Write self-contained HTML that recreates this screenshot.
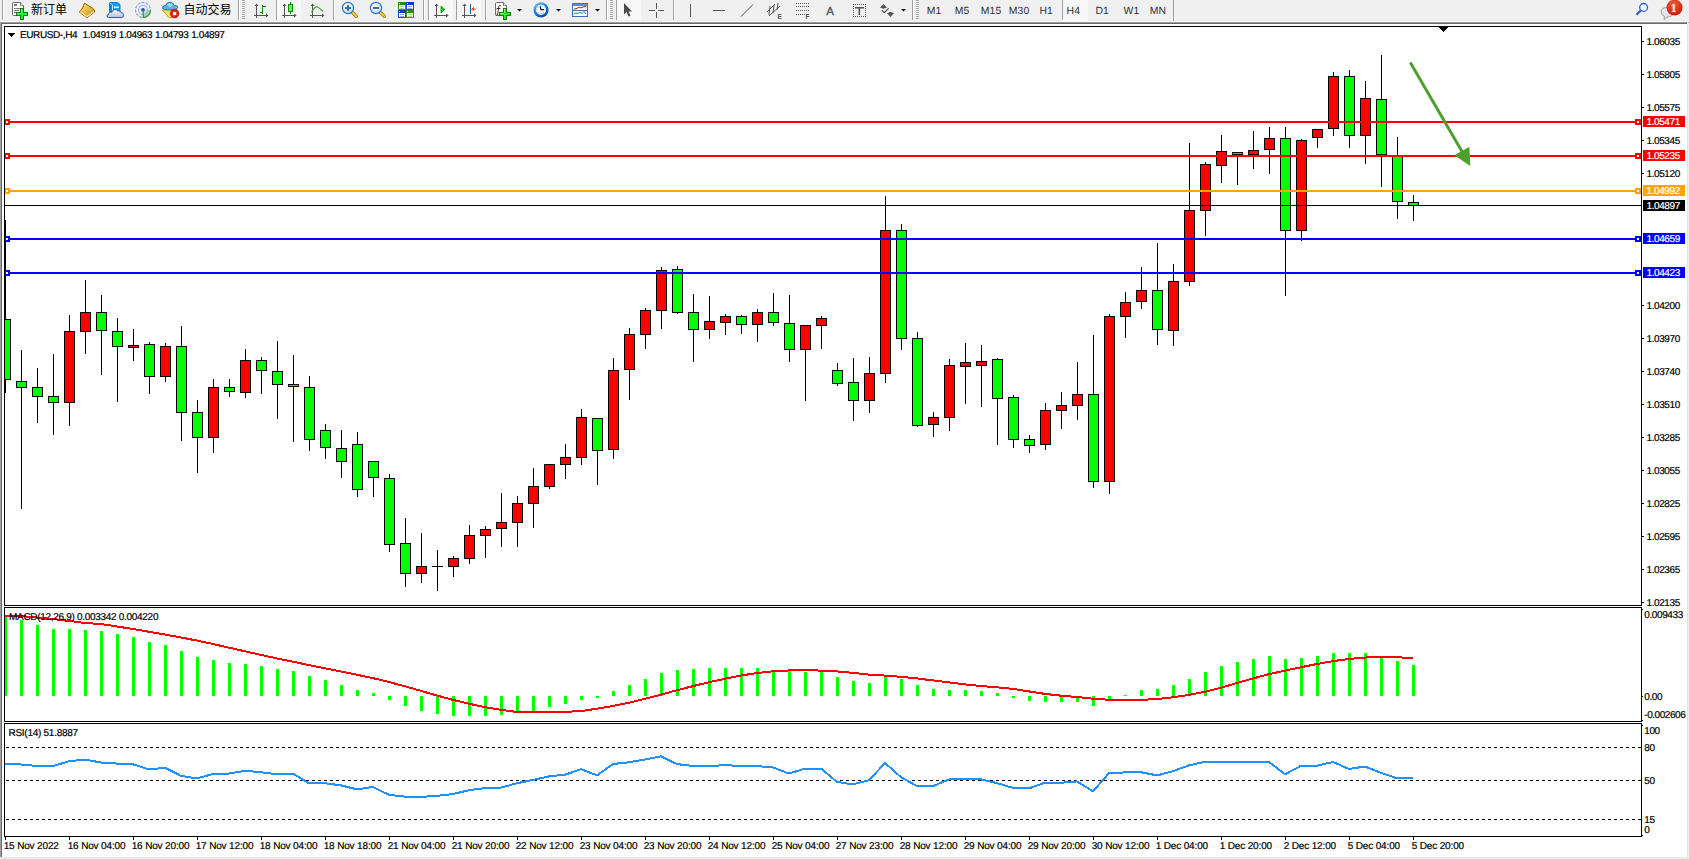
<!DOCTYPE html>
<html><head><meta charset="utf-8"><title>EURUSD-,H4</title>
<style>
html,body{margin:0;padding:0;background:#f0f0f0;width:1689px;height:859px;overflow:hidden;}
svg{position:absolute;left:0;top:0;display:block;}
text{white-space:pre;}
</style></head><body>
<svg width="1689" height="859" viewBox="0 0 1689 859" shape-rendering="crispEdges">
<rect x="0" y="0" width="1689" height="859" fill="#f0f0f0"/>
<g shape-rendering="geometricPrecision">
<defs><pattern id="chk" width="2" height="2" patternUnits="userSpaceOnUse"><rect width="2" height="2" fill="#f4f4f4"/><rect width="1" height="1" fill="#fbfbfb"/><rect x="1" y="1" width="1" height="1" fill="#fbfbfb"/></pattern><linearGradient id="gplus" x1="0" y1="0" x2="0" y2="1"><stop offset="0" stop-color="#5dff5d"/><stop offset="1" stop-color="#00a000"/></linearGradient><linearGradient id="gbook" x1="0" y1="0" x2="1" y2="1"><stop offset="0" stop-color="#ffe680"/><stop offset="1" stop-color="#c8900a"/></linearGradient><radialGradient id="gclock" cx="0.5" cy="0.5" r="0.5"><stop offset="0.6" stop-color="#fff"/><stop offset="0.75" stop-color="#2a86e0"/><stop offset="1" stop-color="#0a4fb0"/></radialGradient><linearGradient id="gcloud" x1="0" y1="0" x2="0" y2="1"><stop offset="0" stop-color="#fafafe"/><stop offset="1" stop-color="#b4c0d8"/></linearGradient><linearGradient id="gfunnel" x1="0" y1="0" x2="1" y2="0"><stop offset="0" stop-color="#f8d840"/><stop offset="1" stop-color="#fff890"/></linearGradient><linearGradient id="gradar" x1="0" y1="0" x2="1" y2="1"><stop offset="0" stop-color="#e8f4e8"/><stop offset="1" stop-color="#60b060"/></linearGradient><radialGradient id="glens" cx="0.4" cy="0.35" r="0.7"><stop offset="0" stop-color="#ffffff"/><stop offset="1" stop-color="#b8e0f8"/></radialGradient><linearGradient id="gclock2" x1="0.2" y1="0.1" x2="0.7" y2="1"><stop offset="0" stop-color="#5ab8ff"/><stop offset="0.5" stop-color="#1478e0"/><stop offset="1" stop-color="#0448a8"/></linearGradient><radialGradient id="gnotif" cx="0.45" cy="0.3" r="0.7"><stop offset="0" stop-color="#f06040"/><stop offset="1" stop-color="#d01800"/></radialGradient></defs>
<rect x="2" y="0" width="1" height="20" fill="#a0a0a0"/><rect x="3" y="0" width="1" height="20" fill="#fff"/>
<path d="M12.5,3.5 q0,-1 1,-1 h7 l3,3 v9 q0,1 -1,1 h-9 q-1,0 -1,-1 z" fill="#fff" stroke="#6e6e6e" stroke-width="1"/>
<path d="M20.5,2.5 v3 h3" fill="#d8d8d8" stroke="#6e6e6e" stroke-width="1"/><rect x="21" y="4" width="1.4" height="1.4" fill="#fff"/>
<g shape-rendering="crispEdges" fill="#7a7a7a"><rect x="14" y="4" width="3" height="2"/><rect x="14" y="8" width="6" height="1"/><rect x="14" y="10" width="5" height="1"/><rect x="14" y="12" width="3" height="1"/></g>
<g shape-rendering="crispEdges"><path d="M20,8 h4 v4 h4 v4 h-4 v4 h-4 v-4 h-4 v-4 h4 z" fill="#0a7d0a"/><path d="M21,9 h2 v4 h4 v2 h-4 v4 h-2 v-4 h-4 v-2 h4 z" fill="#22ee22"/><rect x="21" y="9" width="1" height="4" fill="#8af88a"/><rect x="17" y="13" width="4" height="1" fill="#8af88a"/></g>
<text x="31" y="13.5" font-size="12" fill="#000" font-family='"Liberation Sans", "Noto Sans CJK SC", "WenQuanYi Zen Hei", sans-serif'>新订单</text>
<path d="M84.5,3.2 L93.5,8.8 L95,11.5 L87,17.8 L79.2,12 L82.5,8.5 Z" fill="url(#gbook)" stroke="#9a5e08" stroke-width="1"/><path d="M80.5,12 L87,16.8 L94,11.5" fill="none" stroke="#f8e8a0" stroke-width="1.2"/><path d="M84.5,3.5 Q83,7 80,11.5" fill="none" stroke="#c88a18" stroke-width="1"/>
<path d="M109.5,2.5 h8 l2.5,2 v8 h-10.5 z" fill="#0aa0f0" stroke="#1a78d8" stroke-width="1"/><path d="M109.5,2.8 L112.5,5 V12" fill="none" stroke="#d8f0ff" stroke-width="0.9"/><path d="M110,3.5 L112,5 V12 H110 Z" fill="#0a88e0"/><rect x="114" y="6.5" width="5" height="1.6" fill="#e8f6ff"/><path d="M108.5,17.5 h13.5 q1.5,0 1.5,-2.2 q0,-2.6 -2.5,-2.8 q-0.8,-2.3 -3.2,-1.6 q-1.2,-1.6 -3.3,-1.3 q-2.3,0.4 -2.5,2.6 q-1.4,-0.6 -2.4,0.3 q-0.8,0.7 -0.6,1.6 q-1.9,0.2 -1.9,1.8 q0,1.6 1.4,1.6 z" fill="url(#gcloud)" stroke="#3c5a94" stroke-width="1"/>
<path d="M143,10 L151,10 A8,8 0 0 1 143,18 Z" fill="url(#gradar)"/><g fill="none" stroke-width="1.1"><circle cx="143" cy="10" r="7.5" stroke="#7aa0e0" stroke-dasharray="3 1.2"/><circle cx="143" cy="10" r="4.5" stroke="#90b0e8"/></g><path d="M150.5,10 A7.5,7.5 0 0 1 143,17.5" fill="none" stroke="#3a9a3a" stroke-width="1.2"/><circle cx="143" cy="9.8" r="1.9" fill="#1e50d0"/><rect x="142.6" y="10" width="1.2" height="8" fill="#18a018"/>
<path d="M162.5,10 L177.5,10 L172,17.5 L169,17.5 Z" fill="url(#gfunnel)" stroke="#c89a10" stroke-width="1"/><path d="M162.5,8 q0,-2.8 3.5,-2.6 q0.6,-3.2 4,-3.2 q3.4,0 4,3.2 q3.8,-0.4 3.8,2 q0,2.2 -7.8,2.4 q-7.5,0 -7.5,-1.8 z" fill="#5ab4e8" stroke="#2a7cb0" stroke-width="1"/><ellipse cx="170" cy="5" rx="2.6" ry="1.8" fill="#9ad8f8"/><circle cx="174.6" cy="13.6" r="4.3" fill="#e02808" stroke="#b01800" stroke-width="0.8"/><rect x="173" y="12" width="3.2" height="3.2" fill="#fff"/>
<text x="183.5" y="13.5" font-size="12" fill="#000" font-family='"Liberation Sans", "Noto Sans CJK SC", "WenQuanYi Zen Hei", sans-serif'>自动交易</text>
<rect x="238" y="0" width="1" height="20" fill="#a0a0a0"/><rect x="239" y="0" width="1" height="20" fill="#fff"/>
<rect x="242" y="0" width="3" height="1" fill="#a8a8a8"/>
<rect x="242" y="2" width="3" height="1" fill="#a8a8a8"/>
<rect x="242" y="4" width="3" height="1" fill="#a8a8a8"/>
<rect x="242" y="6" width="3" height="1" fill="#a8a8a8"/>
<rect x="242" y="8" width="3" height="1" fill="#a8a8a8"/>
<rect x="242" y="10" width="3" height="1" fill="#a8a8a8"/>
<rect x="242" y="12" width="3" height="1" fill="#a8a8a8"/>
<rect x="242" y="14" width="3" height="1" fill="#a8a8a8"/>
<rect x="242" y="16" width="3" height="1" fill="#a8a8a8"/>
<rect x="242" y="18" width="3" height="1" fill="#a8a8a8"/>
<g fill="#555"><rect x="256" y="4" width="1" height="14"/><rect x="254" y="15" width="14" height="1"/><path d="M254.5,6 L256.5,3.5 L258.5,6 Z"/><path d="M266,13.5 L268.5,15.5 L266,17.5 Z"/></g>
<g fill="#109010"><rect x="262" y="5" width="1" height="9"/><rect x="263" y="6" width="3" height="1"/><rect x="260" y="12" width="2" height="1"/></g>
<rect x="276" y="0" width="1" height="20" fill="#a0a0a0"/><rect x="277" y="0" width="1" height="20" fill="#fff"/>
<rect x="277" y="0" width="24" height="20" fill="url(#chk)"/>
<g fill="#555"><rect x="284" y="4" width="1" height="14"/><rect x="282" y="15" width="14" height="1"/><path d="M282.5,6 L284.5,3.5 L286.5,6 Z"/><path d="M294,13.5 L296.5,15.5 L294,17.5 Z"/></g>
<rect x="290" y="2" width="1" height="12" fill="#109010"/><rect x="288.5" y="4.5" width="4" height="7" fill="#60f060" stroke="#109010" stroke-width="1"/>
<g fill="#555"><rect x="312" y="4" width="1" height="14"/><rect x="310" y="15" width="14" height="1"/><path d="M310.5,6 L312.5,3.5 L314.5,6 Z"/><path d="M322,13.5 L324.5,15.5 L322,17.5 Z"/></g>
<path d="M311.5,12.5 C313.5,8.5 315.5,6.5 317.5,7 C319.5,7.5 321,10.5 323,11.2" fill="none" stroke="#30a030" stroke-width="1.1"/>
<rect x="333" y="0" width="1" height="20" fill="#a0a0a0"/><rect x="334" y="0" width="1" height="20" fill="#fff"/>
<line x1="351.5" y1="11.5" x2="356.3" y2="16.3" stroke="#b07a10" stroke-width="3.4" stroke-linecap="round"/>
<line x1="351.5" y1="11.5" x2="356.3" y2="16.3" stroke="#f0d860" stroke-width="1.6" stroke-linecap="round"/>
<circle cx="348" cy="8" r="5.6" fill="url(#glens)" stroke="#2c78c8" stroke-width="1.2"/>
<rect x="345" y="7" width="6" height="2" fill="#3a70a0"/>
<rect x="347" y="5" width="2" height="6" fill="#3a70a0"/>
<line x1="379.5" y1="11.5" x2="384.3" y2="16.3" stroke="#b07a10" stroke-width="3.4" stroke-linecap="round"/>
<line x1="379.5" y1="11.5" x2="384.3" y2="16.3" stroke="#f0d860" stroke-width="1.6" stroke-linecap="round"/>
<circle cx="376" cy="8" r="5.6" fill="url(#glens)" stroke="#2c78c8" stroke-width="1.2"/>
<rect x="373" y="7" width="6" height="2" fill="#3a70a0"/>
<g shape-rendering="crispEdges"><rect x="398" y="2" width="8" height="8" fill="#3a9a10"/><rect x="398" y="2" width="8" height="3" fill="#2c8a08"/><rect x="399" y="3" width="1" height="1" fill="#e8f0ff"/><rect x="399" y="5" width="6" height="4" fill="#fff"/><rect x="400" y="6" width="4" height="1" fill="#a8d890"/><rect x="400" y="8" width="4" height="1" fill="#a8d890"/></g>
<g shape-rendering="crispEdges"><rect x="406" y="2" width="8" height="8" fill="#1a4ad8"/><rect x="406" y="2" width="8" height="3" fill="#1038c0"/><rect x="407" y="3" width="1" height="1" fill="#e8f0ff"/><rect x="407" y="5" width="6" height="4" fill="#fff"/><rect x="408" y="6" width="4" height="1" fill="#90a8e8"/><rect x="408" y="8" width="4" height="1" fill="#90a8e8"/></g>
<g shape-rendering="crispEdges"><rect x="398" y="10" width="8" height="8" fill="#1a4ad8"/><rect x="398" y="10" width="8" height="3" fill="#1038c0"/><rect x="399" y="11" width="1" height="1" fill="#e8f0ff"/><rect x="399" y="13" width="6" height="4" fill="#fff"/><rect x="400" y="14" width="4" height="1" fill="#90a8e8"/><rect x="400" y="16" width="4" height="1" fill="#90a8e8"/></g>
<g shape-rendering="crispEdges"><rect x="406" y="10" width="8" height="8" fill="#3a9a10"/><rect x="406" y="10" width="8" height="3" fill="#2c8a08"/><rect x="407" y="11" width="1" height="1" fill="#e8f0ff"/><rect x="407" y="13" width="6" height="4" fill="#fff"/><rect x="408" y="14" width="4" height="1" fill="#a8d890"/><rect x="408" y="16" width="4" height="1" fill="#a8d890"/></g>
<rect x="423" y="0" width="1" height="20" fill="#a0a0a0"/><rect x="424" y="0" width="1" height="20" fill="#fff"/>
<rect x="428" y="0" width="1" height="20" fill="#a0a0a0"/><rect x="429" y="0" width="1" height="20" fill="#fff"/>
<rect x="430" y="0" width="23" height="20" fill="url(#chk)"/>
<g fill="#555"><rect x="436" y="4" width="1" height="14"/><rect x="434" y="15" width="14" height="1"/><path d="M434.5,6 L436.5,3.5 L438.5,6 Z"/><path d="M446,13.5 L448.5,15.5 L446,17.5 Z"/></g>
<path d="M441,6 L445,9.5 L441,13 Z" fill="#30c030" stroke="#109010" stroke-width="0.8"/>
<rect x="456" y="0" width="1" height="20" fill="#a0a0a0"/><rect x="457" y="0" width="1" height="20" fill="#fff"/>
<rect x="457" y="0" width="24" height="20" fill="url(#chk)"/>
<g fill="#555"><rect x="464" y="4" width="1" height="14"/><rect x="462" y="15" width="14" height="1"/><path d="M462.5,6 L464.5,3.5 L466.5,6 Z"/><path d="M474,13.5 L476.5,15.5 L474,17.5 Z"/></g>
<rect x="470" y="4" width="1" height="10" fill="#1060a0"/><path d="M471,9 L474,7 L474,8.5 L476,8.5 L476,9.5 L474,9.5 L474,11 Z" fill="#e05010"/>
<rect x="485" y="0" width="1" height="20" fill="#a0a0a0"/><rect x="486" y="0" width="1" height="20" fill="#fff"/>
<path d="M495.5,3.5 q0,-1 1,-1 h7 l3,3 v9 q0,1 -1,1 h-9 q-1,0 -1,-1 z" fill="#fff" stroke="#6e6e6e" stroke-width="1"/>
<path d="M503.5,2.5 v3 h3" fill="#d8d8d8" stroke="#6e6e6e" stroke-width="1"/><rect x="504" y="4" width="1.4" height="1.4" fill="#fff"/>
<path d="M501,5.5 q-2,-0.5 -2.3,1.5 l-1,7 q-0.3,1.5 -2,1.2 M496.5,8.5 h4" fill="none" stroke="#4a3a20" stroke-width="1"/>
<g shape-rendering="crispEdges"><path d="M503,8 h4 v4 h4 v4 h-4 v4 h-4 v-4 h-4 v-4 h4 z" fill="#0a7d0a"/><path d="M504,9 h2 v4 h4 v2 h-4 v4 h-2 v-4 h-4 v-2 h4 z" fill="#22ee22"/><rect x="504" y="9" width="1" height="4" fill="#8af88a"/><rect x="500" y="13" width="4" height="1" fill="#8af88a"/></g>
<path d="M517.0,9 h5 l-2.5,2.5 z" fill="#000"/>
<circle cx="541" cy="9.8" r="7.6" fill="url(#gclock2)"/><circle cx="541" cy="9.8" r="5.1" fill="#f8f8f8"/><g fill="#9a9a9a"><rect x="540.5" y="5.2" width="1" height="1"/><rect x="536.3" y="9.3" width="1" height="1"/><rect x="544.7" y="9.3" width="1" height="1"/><rect x="538" y="12.5" width="1" height="1"/><rect x="543" y="12.5" width="1" height="1"/><rect x="537.5" y="6.8" width="1" height="1"/></g><rect x="540.5" y="12.8" width="1.6" height="0.8" fill="#6aa8f0"/><path d="M540.2,6.3 L541,9.6 L544,9.6" fill="none" stroke="#1a1a1a" stroke-width="1.3"/>
<path d="M556.0,9 h5 l-2.5,2.5 z" fill="#000"/>
<rect x="572.5" y="3.5" width="15" height="13" fill="#fff" stroke="#3a70c0" stroke-width="1"/><rect x="573" y="4" width="14" height="2" fill="#5a90d8"/><rect x="573" y="10" width="14" height="1" fill="#3a70c0"/><polyline points="574,9 577,8.5 579,7 581,8 583,7 586,6.5" fill="none" stroke="#a02010" stroke-width="1"/><polyline points="574,14 576,13 578,13.5 580,12 582,13.5 584,11.5 586,14" fill="none" stroke="#20a020" stroke-width="1"/>
<path d="M595.0,9 h5 l-2.5,2.5 z" fill="#000"/>
<rect x="606" y="0" width="1" height="20" fill="#a0a0a0"/><rect x="607" y="0" width="1" height="20" fill="#fff"/>
<rect x="610" y="0" width="3" height="1" fill="#a8a8a8"/>
<rect x="610" y="2" width="3" height="1" fill="#a8a8a8"/>
<rect x="610" y="4" width="3" height="1" fill="#a8a8a8"/>
<rect x="610" y="6" width="3" height="1" fill="#a8a8a8"/>
<rect x="610" y="8" width="3" height="1" fill="#a8a8a8"/>
<rect x="610" y="10" width="3" height="1" fill="#a8a8a8"/>
<rect x="610" y="12" width="3" height="1" fill="#a8a8a8"/>
<rect x="610" y="14" width="3" height="1" fill="#a8a8a8"/>
<rect x="610" y="16" width="3" height="1" fill="#a8a8a8"/>
<rect x="610" y="18" width="3" height="1" fill="#a8a8a8"/>
<rect x="616" y="0" width="1" height="20" fill="#a0a0a0"/><rect x="617" y="0" width="1" height="20" fill="#fff"/>
<rect x="617" y="0" width="24" height="20" fill="url(#chk)"/>
<path d="M624,3 L624,14.5 L626.5,12 L628.5,16.5 L630.5,15.5 L628.5,11.5 L632,11.5 Z" fill="#4a4a4a"/>
<g fill="#555"><rect x="656" y="3" width="1" height="6"/><rect x="656" y="12" width="1" height="6"/><rect x="649" y="10" width="6" height="1"/><rect x="658" y="10" width="6" height="1"/></g>
<rect x="673" y="0" width="1" height="20" fill="#a0a0a0"/><rect x="674" y="0" width="1" height="20" fill="#fff"/>
<rect x="690" y="4" width="1" height="13" fill="#555"/>
<rect x="713" y="10" width="12" height="1" fill="#555"/>
<line x1="741" y1="16.5" x2="753" y2="4.5" stroke="#555" stroke-width="1"/>
<g stroke="#555" stroke-width="1" fill="none"><line x1="767" y1="12" x2="775" y2="4"/><line x1="769" y1="16" x2="780" y2="6"/><line x1="770" y1="6" x2="769" y2="15"/><line x1="774" y1="5" x2="773" y2="13"/><line x1="778" y1="3" x2="777" y2="10"/></g><text x="777.5" y="19" font-size="6.5" font-weight="bold" fill="#555" font-family='"Liberation Sans", Arial, sans-serif'>E</text>
<rect x="796" y="3" width="1" height="1" fill="#555"/>
<rect x="798" y="3" width="1" height="1" fill="#555"/>
<rect x="800" y="3" width="1" height="1" fill="#555"/>
<rect x="802" y="3" width="1" height="1" fill="#555"/>
<rect x="804" y="3" width="1" height="1" fill="#555"/>
<rect x="806" y="3" width="1" height="1" fill="#555"/>
<rect x="808" y="3" width="1" height="1" fill="#555"/>
<rect x="796" y="6" width="1" height="1" fill="#555"/>
<rect x="798" y="6" width="1" height="1" fill="#555"/>
<rect x="800" y="6" width="1" height="1" fill="#555"/>
<rect x="802" y="6" width="1" height="1" fill="#555"/>
<rect x="804" y="6" width="1" height="1" fill="#555"/>
<rect x="806" y="6" width="1" height="1" fill="#555"/>
<rect x="808" y="6" width="1" height="1" fill="#555"/>
<rect x="796" y="10" width="1" height="1" fill="#555"/>
<rect x="798" y="10" width="1" height="1" fill="#555"/>
<rect x="800" y="10" width="1" height="1" fill="#555"/>
<rect x="802" y="10" width="1" height="1" fill="#555"/>
<rect x="804" y="10" width="1" height="1" fill="#555"/>
<rect x="806" y="10" width="1" height="1" fill="#555"/>
<rect x="808" y="10" width="1" height="1" fill="#555"/>
<rect x="796" y="14" width="1" height="1" fill="#555"/>
<rect x="798" y="14" width="1" height="1" fill="#555"/>
<rect x="800" y="14" width="1" height="1" fill="#555"/>
<rect x="802" y="14" width="1" height="1" fill="#555"/>
<rect x="804" y="14" width="1" height="1" fill="#555"/>
<rect x="806" y="14" width="1" height="1" fill="#555"/>
<rect x="808" y="14" width="1" height="1" fill="#555"/>
<text x="805.5" y="19" font-size="6.5" font-weight="bold" fill="#555" font-family='"Liberation Sans", Arial, sans-serif'>F</text>
<text x="826.3" y="15" font-size="11.6" fill="#555" stroke="#555" stroke-width="0.35" font-family='"Liberation Sans", Arial, sans-serif'>A</text>
<rect x="853" y="4" width="1" height="1" fill="#555"/><rect x="853" y="16" width="1" height="1" fill="#555"/>
<rect x="855" y="4" width="1" height="1" fill="#555"/><rect x="855" y="16" width="1" height="1" fill="#555"/>
<rect x="857" y="4" width="1" height="1" fill="#555"/><rect x="857" y="16" width="1" height="1" fill="#555"/>
<rect x="859" y="4" width="1" height="1" fill="#555"/><rect x="859" y="16" width="1" height="1" fill="#555"/>
<rect x="861" y="4" width="1" height="1" fill="#555"/><rect x="861" y="16" width="1" height="1" fill="#555"/>
<rect x="863" y="4" width="1" height="1" fill="#555"/><rect x="863" y="16" width="1" height="1" fill="#555"/>
<rect x="865" y="4" width="1" height="1" fill="#555"/><rect x="865" y="16" width="1" height="1" fill="#555"/>
<rect x="853" y="4" width="1" height="1" fill="#555"/><rect x="865" y="4" width="1" height="1" fill="#555"/>
<rect x="853" y="6" width="1" height="1" fill="#555"/><rect x="865" y="6" width="1" height="1" fill="#555"/>
<rect x="853" y="8" width="1" height="1" fill="#555"/><rect x="865" y="8" width="1" height="1" fill="#555"/>
<rect x="853" y="10" width="1" height="1" fill="#555"/><rect x="865" y="10" width="1" height="1" fill="#555"/>
<rect x="853" y="12" width="1" height="1" fill="#555"/><rect x="865" y="12" width="1" height="1" fill="#555"/>
<rect x="853" y="14" width="1" height="1" fill="#555"/><rect x="865" y="14" width="1" height="1" fill="#555"/>
<rect x="853" y="16" width="1" height="1" fill="#555"/><rect x="865" y="16" width="1" height="1" fill="#555"/>
<rect x="855" y="7" width="9" height="1.5" fill="#555"/><rect x="858.5" y="7" width="1.6" height="8" fill="#555"/>
<g fill="#555"><path d="M880,7.6 L883.5,4 L887,7.6 L883.5,8.8 Z"/><path d="M887,13.2 L890.5,11.8 L894,13.2 L890.5,17 Z"/></g><polyline points="881.8,10.2 884.2,12.6 888.6,8.4" fill="none" stroke="#555" stroke-width="1.3"/>
<path d="M901.0,9 h5 l-2.5,2.5 z" fill="#000"/>
<rect x="912" y="0" width="1" height="20" fill="#a0a0a0"/><rect x="913" y="0" width="1" height="20" fill="#fff"/>
<rect x="916" y="0" width="3" height="1" fill="#a8a8a8"/>
<rect x="916" y="2" width="3" height="1" fill="#a8a8a8"/>
<rect x="916" y="4" width="3" height="1" fill="#a8a8a8"/>
<rect x="916" y="6" width="3" height="1" fill="#a8a8a8"/>
<rect x="916" y="8" width="3" height="1" fill="#a8a8a8"/>
<rect x="916" y="10" width="3" height="1" fill="#a8a8a8"/>
<rect x="916" y="12" width="3" height="1" fill="#a8a8a8"/>
<rect x="916" y="14" width="3" height="1" fill="#a8a8a8"/>
<rect x="916" y="16" width="3" height="1" fill="#a8a8a8"/>
<rect x="916" y="18" width="3" height="1" fill="#a8a8a8"/>
<text x="926.8" y="14" font-size="10.4" fill="#333" text-rendering="geometricPrecision" letter-spacing="0.1" font-family='"Liberation Sans", Arial, sans-serif'>M1</text>
<text x="954.8" y="14" font-size="10.4" fill="#333" text-rendering="geometricPrecision" letter-spacing="0.1" font-family='"Liberation Sans", Arial, sans-serif'>M5</text>
<text x="980.8" y="14" font-size="10.4" fill="#333" text-rendering="geometricPrecision" letter-spacing="0.1" font-family='"Liberation Sans", Arial, sans-serif'>M15</text>
<text x="1008.8" y="14" font-size="10.4" fill="#333" text-rendering="geometricPrecision" letter-spacing="0.1" font-family='"Liberation Sans", Arial, sans-serif'>M30</text>
<text x="1039.5" y="14" font-size="10.4" fill="#333" text-rendering="geometricPrecision" letter-spacing="0.1" font-family='"Liberation Sans", Arial, sans-serif'>H1</text>
<rect x="1062" y="0" width="1" height="20" fill="#a0a0a0"/>
<rect x="1063" y="0" width="25" height="20" fill="url(#chk)"/>
<rect x="1062" y="20" width="26" height="1" fill="#fff"/>
<text x="1066.6" y="14" font-size="10.4" fill="#333" text-rendering="geometricPrecision" letter-spacing="0.1" font-family='"Liberation Sans", Arial, sans-serif'>H4</text>
<text x="1095.5" y="14" font-size="10.4" fill="#333" text-rendering="geometricPrecision" letter-spacing="0.1" font-family='"Liberation Sans", Arial, sans-serif'>D1</text>
<text x="1123.6" y="14" font-size="10.4" fill="#333" text-rendering="geometricPrecision" letter-spacing="0.1" font-family='"Liberation Sans", Arial, sans-serif'>W1</text>
<text x="1149.7" y="14" font-size="10.4" fill="#333" text-rendering="geometricPrecision" letter-spacing="0.1" font-family='"Liberation Sans", Arial, sans-serif'>MN</text>
<rect x="1173" y="0" width="1" height="21" fill="#a0a0a0"/>
<circle cx="1643.6" cy="7.4" r="3.9" fill="#fafaff" stroke="#2060d8" stroke-width="1.3"/><line x1="1641" y1="10.3" x2="1636.5" y2="14.8" stroke="#2060d8" stroke-width="2.2"/>
<path d="M1661,12.5 q0,-5 6,-5 q6,0 6,5 q0,4.5 -6,4.5 l-3,2.5 l0.5,-3 q-3,-1 -3,-4 z" fill="#e4e4ee" stroke="#a0a0a0" stroke-width="1"/>
<circle cx="1674.5" cy="7.6" r="8" fill="url(#gnotif)"/>
<text x="1673.6" y="12.3" font-size="11.5" font-weight="bold" fill="#fff" text-anchor="middle" font-family='"Liberation Serif", serif'>1</text>
</g>
<rect x="0" y="21" width="1689" height="1" fill="#f4f4f4"/>
<rect x="0" y="22" width="1689" height="1" fill="#a0a0a0"/>
<rect x="0" y="22" width="1" height="836" fill="#a0a0a0"/>
<rect x="1" y="23" width="1686" height="1" fill="#696969"/>
<rect x="1" y="23" width="1" height="834" fill="#696969"/>
<rect x="1687" y="22" width="1" height="836" fill="#e3e3e3"/>
<rect x="0" y="857" width="1688" height="1" fill="#e3e3e3"/>
<rect x="2" y="24" width="1685" height="833" fill="#ffffff"/>
<clipPath id="cm"><rect x="5" y="27" width="1636" height="578"/></clipPath>
<clipPath id="cmacd"><rect x="5" y="608" width="1636" height="113"/></clipPath>
<clipPath id="crsi"><rect x="5" y="724" width="1636" height="112"/></clipPath>
<g clip-path="url(#cm)">
<rect x="5" y="220" width="1" height="173" fill="#000"/>
<rect x="0" y="319" width="11" height="61" fill="#000"/>
<rect x="1" y="320" width="9" height="59" fill="#00ff00"/>
<rect x="21" y="350" width="1" height="159" fill="#000"/>
<rect x="16" y="381" width="11" height="7" fill="#000"/>
<rect x="17" y="382" width="9" height="5" fill="#00ff00"/>
<rect x="37" y="368" width="1" height="55" fill="#000"/>
<rect x="32" y="387" width="11" height="10" fill="#000"/>
<rect x="33" y="388" width="9" height="8" fill="#00ff00"/>
<rect x="53" y="354" width="1" height="81" fill="#000"/>
<rect x="48" y="396" width="11" height="7" fill="#000"/>
<rect x="49" y="397" width="9" height="5" fill="#00ff00"/>
<rect x="69" y="315" width="1" height="111" fill="#000"/>
<rect x="64" y="331" width="11" height="72" fill="#000"/>
<rect x="65" y="332" width="9" height="70" fill="#ff0000"/>
<rect x="85" y="280" width="1" height="74" fill="#000"/>
<rect x="80" y="312" width="11" height="20" fill="#000"/>
<rect x="81" y="313" width="9" height="18" fill="#ff0000"/>
<rect x="101" y="295" width="1" height="80" fill="#000"/>
<rect x="96" y="312" width="11" height="19" fill="#000"/>
<rect x="97" y="313" width="9" height="17" fill="#00ff00"/>
<rect x="117" y="318" width="1" height="84" fill="#000"/>
<rect x="112" y="331" width="11" height="16" fill="#000"/>
<rect x="113" y="332" width="9" height="14" fill="#00ff00"/>
<rect x="133" y="329" width="1" height="32" fill="#000"/>
<rect x="128" y="345" width="11" height="3" fill="#000"/>
<rect x="129" y="346" width="9" height="1" fill="#ff0000"/>
<rect x="149" y="342" width="1" height="52" fill="#000"/>
<rect x="144" y="344" width="11" height="33" fill="#000"/>
<rect x="145" y="345" width="9" height="31" fill="#00ff00"/>
<rect x="165" y="343" width="1" height="39" fill="#000"/>
<rect x="160" y="346" width="11" height="31" fill="#000"/>
<rect x="161" y="347" width="9" height="29" fill="#ff0000"/>
<rect x="181" y="326" width="1" height="115" fill="#000"/>
<rect x="176" y="346" width="11" height="67" fill="#000"/>
<rect x="177" y="347" width="9" height="65" fill="#00ff00"/>
<rect x="197" y="400" width="1" height="73" fill="#000"/>
<rect x="192" y="412" width="11" height="26" fill="#000"/>
<rect x="193" y="413" width="9" height="24" fill="#00ff00"/>
<rect x="213" y="379" width="1" height="74" fill="#000"/>
<rect x="208" y="387" width="11" height="51" fill="#000"/>
<rect x="209" y="388" width="9" height="49" fill="#ff0000"/>
<rect x="229" y="379" width="1" height="18" fill="#000"/>
<rect x="224" y="387" width="11" height="5" fill="#000"/>
<rect x="225" y="388" width="9" height="3" fill="#00ff00"/>
<rect x="245" y="349" width="1" height="49" fill="#000"/>
<rect x="240" y="360" width="11" height="33" fill="#000"/>
<rect x="241" y="361" width="9" height="31" fill="#ff0000"/>
<rect x="261" y="357" width="1" height="37" fill="#000"/>
<rect x="256" y="360" width="11" height="11" fill="#000"/>
<rect x="257" y="361" width="9" height="9" fill="#00ff00"/>
<rect x="277" y="341" width="1" height="78" fill="#000"/>
<rect x="272" y="371" width="11" height="14" fill="#000"/>
<rect x="273" y="372" width="9" height="12" fill="#00ff00"/>
<rect x="293" y="355" width="1" height="87" fill="#000"/>
<rect x="288" y="384" width="11" height="3" fill="#000"/>
<rect x="289" y="385" width="9" height="1" fill="#00ff00"/>
<rect x="309" y="376" width="1" height="75" fill="#000"/>
<rect x="304" y="387" width="11" height="53" fill="#000"/>
<rect x="305" y="388" width="9" height="51" fill="#00ff00"/>
<rect x="325" y="424" width="1" height="35" fill="#000"/>
<rect x="320" y="430" width="11" height="18" fill="#000"/>
<rect x="321" y="431" width="9" height="16" fill="#00ff00"/>
<rect x="341" y="430" width="1" height="48" fill="#000"/>
<rect x="336" y="448" width="11" height="14" fill="#000"/>
<rect x="337" y="449" width="9" height="12" fill="#00ff00"/>
<rect x="357" y="432" width="1" height="65" fill="#000"/>
<rect x="352" y="444" width="11" height="46" fill="#000"/>
<rect x="353" y="445" width="9" height="44" fill="#00ff00"/>
<rect x="373" y="461" width="1" height="36" fill="#000"/>
<rect x="368" y="461" width="11" height="17" fill="#000"/>
<rect x="369" y="462" width="9" height="15" fill="#00ff00"/>
<rect x="389" y="474" width="1" height="78" fill="#000"/>
<rect x="384" y="478" width="11" height="67" fill="#000"/>
<rect x="385" y="479" width="9" height="65" fill="#00ff00"/>
<rect x="405" y="518" width="1" height="69" fill="#000"/>
<rect x="400" y="543" width="11" height="31" fill="#000"/>
<rect x="401" y="544" width="9" height="29" fill="#00ff00"/>
<rect x="421" y="533" width="1" height="50" fill="#000"/>
<rect x="416" y="566" width="11" height="8" fill="#000"/>
<rect x="417" y="567" width="9" height="6" fill="#ff0000"/>
<rect x="437" y="550" width="1" height="41" fill="#000"/>
<rect x="432" y="566" width="11" height="1" fill="#000"/>
<rect x="453" y="556" width="1" height="21" fill="#000"/>
<rect x="448" y="558" width="11" height="9" fill="#000"/>
<rect x="449" y="559" width="9" height="7" fill="#ff0000"/>
<rect x="469" y="525" width="1" height="39" fill="#000"/>
<rect x="464" y="535" width="11" height="24" fill="#000"/>
<rect x="465" y="536" width="9" height="22" fill="#ff0000"/>
<rect x="485" y="526" width="1" height="32" fill="#000"/>
<rect x="480" y="529" width="11" height="7" fill="#000"/>
<rect x="481" y="530" width="9" height="5" fill="#ff0000"/>
<rect x="501" y="493" width="1" height="54" fill="#000"/>
<rect x="496" y="522" width="11" height="7" fill="#000"/>
<rect x="497" y="523" width="9" height="5" fill="#ff0000"/>
<rect x="517" y="496" width="1" height="51" fill="#000"/>
<rect x="512" y="503" width="11" height="20" fill="#000"/>
<rect x="513" y="504" width="9" height="18" fill="#ff0000"/>
<rect x="533" y="468" width="1" height="60" fill="#000"/>
<rect x="528" y="486" width="11" height="18" fill="#000"/>
<rect x="529" y="487" width="9" height="16" fill="#ff0000"/>
<rect x="549" y="464" width="1" height="25" fill="#000"/>
<rect x="544" y="464" width="11" height="23" fill="#000"/>
<rect x="545" y="465" width="9" height="21" fill="#ff0000"/>
<rect x="565" y="444" width="1" height="35" fill="#000"/>
<rect x="560" y="457" width="11" height="8" fill="#000"/>
<rect x="561" y="458" width="9" height="6" fill="#ff0000"/>
<rect x="581" y="409" width="1" height="56" fill="#000"/>
<rect x="576" y="417" width="11" height="41" fill="#000"/>
<rect x="577" y="418" width="9" height="39" fill="#ff0000"/>
<rect x="597" y="418" width="1" height="67" fill="#000"/>
<rect x="592" y="418" width="11" height="33" fill="#000"/>
<rect x="593" y="419" width="9" height="31" fill="#00ff00"/>
<rect x="613" y="358" width="1" height="101" fill="#000"/>
<rect x="608" y="370" width="11" height="80" fill="#000"/>
<rect x="609" y="371" width="9" height="78" fill="#ff0000"/>
<rect x="629" y="328" width="1" height="72" fill="#000"/>
<rect x="624" y="334" width="11" height="36" fill="#000"/>
<rect x="625" y="335" width="9" height="34" fill="#ff0000"/>
<rect x="645" y="308" width="1" height="41" fill="#000"/>
<rect x="640" y="310" width="11" height="25" fill="#000"/>
<rect x="641" y="311" width="9" height="23" fill="#ff0000"/>
<rect x="661" y="267" width="1" height="62" fill="#000"/>
<rect x="656" y="270" width="11" height="41" fill="#000"/>
<rect x="657" y="271" width="9" height="39" fill="#ff0000"/>
<rect x="677" y="266" width="1" height="48" fill="#000"/>
<rect x="672" y="269" width="11" height="44" fill="#000"/>
<rect x="673" y="270" width="9" height="42" fill="#00ff00"/>
<rect x="693" y="294" width="1" height="68" fill="#000"/>
<rect x="688" y="312" width="11" height="18" fill="#000"/>
<rect x="689" y="313" width="9" height="16" fill="#00ff00"/>
<rect x="709" y="296" width="1" height="43" fill="#000"/>
<rect x="704" y="321" width="11" height="9" fill="#000"/>
<rect x="705" y="322" width="9" height="7" fill="#ff0000"/>
<rect x="725" y="314" width="1" height="21" fill="#000"/>
<rect x="720" y="316" width="11" height="7" fill="#000"/>
<rect x="721" y="317" width="9" height="5" fill="#ff0000"/>
<rect x="741" y="315" width="1" height="19" fill="#000"/>
<rect x="736" y="316" width="11" height="9" fill="#000"/>
<rect x="737" y="317" width="9" height="7" fill="#00ff00"/>
<rect x="757" y="309" width="1" height="33" fill="#000"/>
<rect x="752" y="312" width="11" height="13" fill="#000"/>
<rect x="753" y="313" width="9" height="11" fill="#ff0000"/>
<rect x="773" y="293" width="1" height="33" fill="#000"/>
<rect x="768" y="312" width="11" height="11" fill="#000"/>
<rect x="769" y="313" width="9" height="9" fill="#00ff00"/>
<rect x="789" y="295" width="1" height="67" fill="#000"/>
<rect x="784" y="323" width="11" height="27" fill="#000"/>
<rect x="785" y="324" width="9" height="25" fill="#00ff00"/>
<rect x="805" y="325" width="1" height="76" fill="#000"/>
<rect x="800" y="325" width="11" height="25" fill="#000"/>
<rect x="801" y="326" width="9" height="23" fill="#ff0000"/>
<rect x="821" y="316" width="1" height="33" fill="#000"/>
<rect x="816" y="318" width="11" height="8" fill="#000"/>
<rect x="817" y="319" width="9" height="6" fill="#ff0000"/>
<rect x="837" y="363" width="1" height="23" fill="#000"/>
<rect x="832" y="370" width="11" height="14" fill="#000"/>
<rect x="833" y="371" width="9" height="12" fill="#00ff00"/>
<rect x="853" y="358" width="1" height="63" fill="#000"/>
<rect x="848" y="382" width="11" height="19" fill="#000"/>
<rect x="849" y="383" width="9" height="17" fill="#00ff00"/>
<rect x="869" y="357" width="1" height="56" fill="#000"/>
<rect x="864" y="373" width="11" height="28" fill="#000"/>
<rect x="865" y="374" width="9" height="26" fill="#ff0000"/>
<rect x="885" y="196" width="1" height="187" fill="#000"/>
<rect x="880" y="230" width="11" height="144" fill="#000"/>
<rect x="881" y="231" width="9" height="142" fill="#ff0000"/>
<rect x="901" y="224" width="1" height="126" fill="#000"/>
<rect x="896" y="230" width="11" height="109" fill="#000"/>
<rect x="897" y="231" width="9" height="107" fill="#00ff00"/>
<rect x="917" y="332" width="1" height="95" fill="#000"/>
<rect x="912" y="338" width="11" height="88" fill="#000"/>
<rect x="913" y="339" width="9" height="86" fill="#00ff00"/>
<rect x="933" y="412" width="1" height="25" fill="#000"/>
<rect x="928" y="417" width="11" height="8" fill="#000"/>
<rect x="929" y="418" width="9" height="6" fill="#ff0000"/>
<rect x="949" y="359" width="1" height="72" fill="#000"/>
<rect x="944" y="365" width="11" height="53" fill="#000"/>
<rect x="945" y="366" width="9" height="51" fill="#ff0000"/>
<rect x="965" y="343" width="1" height="61" fill="#000"/>
<rect x="960" y="362" width="11" height="5" fill="#000"/>
<rect x="961" y="363" width="9" height="3" fill="#ff0000"/>
<rect x="981" y="345" width="1" height="62" fill="#000"/>
<rect x="976" y="361" width="11" height="5" fill="#000"/>
<rect x="977" y="362" width="9" height="3" fill="#ff0000"/>
<rect x="997" y="358" width="1" height="87" fill="#000"/>
<rect x="992" y="359" width="11" height="40" fill="#000"/>
<rect x="993" y="360" width="9" height="38" fill="#00ff00"/>
<rect x="1013" y="395" width="1" height="53" fill="#000"/>
<rect x="1008" y="397" width="11" height="43" fill="#000"/>
<rect x="1009" y="398" width="9" height="41" fill="#00ff00"/>
<rect x="1029" y="435" width="1" height="18" fill="#000"/>
<rect x="1024" y="439" width="11" height="7" fill="#000"/>
<rect x="1025" y="440" width="9" height="5" fill="#00ff00"/>
<rect x="1045" y="403" width="1" height="47" fill="#000"/>
<rect x="1040" y="410" width="11" height="35" fill="#000"/>
<rect x="1041" y="411" width="9" height="33" fill="#ff0000"/>
<rect x="1061" y="392" width="1" height="37" fill="#000"/>
<rect x="1056" y="405" width="11" height="6" fill="#000"/>
<rect x="1057" y="406" width="9" height="4" fill="#ff0000"/>
<rect x="1077" y="362" width="1" height="58" fill="#000"/>
<rect x="1072" y="394" width="11" height="12" fill="#000"/>
<rect x="1073" y="395" width="9" height="10" fill="#ff0000"/>
<rect x="1093" y="335" width="1" height="153" fill="#000"/>
<rect x="1088" y="394" width="11" height="88" fill="#000"/>
<rect x="1089" y="395" width="9" height="86" fill="#00ff00"/>
<rect x="1109" y="314" width="1" height="180" fill="#000"/>
<rect x="1104" y="316" width="11" height="166" fill="#000"/>
<rect x="1105" y="317" width="9" height="164" fill="#ff0000"/>
<rect x="1125" y="292" width="1" height="46" fill="#000"/>
<rect x="1120" y="302" width="11" height="15" fill="#000"/>
<rect x="1121" y="303" width="9" height="13" fill="#ff0000"/>
<rect x="1141" y="267" width="1" height="42" fill="#000"/>
<rect x="1136" y="290" width="11" height="12" fill="#000"/>
<rect x="1137" y="291" width="9" height="10" fill="#ff0000"/>
<rect x="1157" y="243" width="1" height="102" fill="#000"/>
<rect x="1152" y="290" width="11" height="40" fill="#000"/>
<rect x="1153" y="291" width="9" height="38" fill="#00ff00"/>
<rect x="1173" y="264" width="1" height="82" fill="#000"/>
<rect x="1168" y="281" width="11" height="50" fill="#000"/>
<rect x="1169" y="282" width="9" height="48" fill="#ff0000"/>
<rect x="1189" y="143" width="1" height="143" fill="#000"/>
<rect x="1184" y="210" width="11" height="72" fill="#000"/>
<rect x="1185" y="211" width="9" height="70" fill="#ff0000"/>
<rect x="1205" y="162" width="1" height="74" fill="#000"/>
<rect x="1200" y="164" width="11" height="47" fill="#000"/>
<rect x="1201" y="165" width="9" height="45" fill="#ff0000"/>
<rect x="1221" y="135" width="1" height="48" fill="#000"/>
<rect x="1216" y="151" width="11" height="15" fill="#000"/>
<rect x="1217" y="152" width="9" height="13" fill="#ff0000"/>
<rect x="1237" y="152" width="1" height="33" fill="#000"/>
<rect x="1232" y="152" width="11" height="3" fill="#000"/>
<rect x="1233" y="153" width="9" height="1" fill="#00ff00"/>
<rect x="1253" y="131" width="1" height="38" fill="#000"/>
<rect x="1248" y="150" width="11" height="5" fill="#000"/>
<rect x="1249" y="151" width="9" height="3" fill="#ff0000"/>
<rect x="1269" y="127" width="1" height="47" fill="#000"/>
<rect x="1264" y="138" width="11" height="12" fill="#000"/>
<rect x="1265" y="139" width="9" height="10" fill="#ff0000"/>
<rect x="1285" y="127" width="1" height="169" fill="#000"/>
<rect x="1280" y="138" width="11" height="93" fill="#000"/>
<rect x="1281" y="139" width="9" height="91" fill="#00ff00"/>
<rect x="1301" y="139" width="1" height="102" fill="#000"/>
<rect x="1296" y="140" width="11" height="91" fill="#000"/>
<rect x="1297" y="141" width="9" height="89" fill="#ff0000"/>
<rect x="1317" y="129" width="1" height="19" fill="#000"/>
<rect x="1312" y="129" width="11" height="9" fill="#000"/>
<rect x="1313" y="130" width="9" height="7" fill="#ff0000"/>
<rect x="1333" y="72" width="1" height="64" fill="#000"/>
<rect x="1328" y="76" width="11" height="53" fill="#000"/>
<rect x="1329" y="77" width="9" height="51" fill="#ff0000"/>
<rect x="1349" y="70" width="1" height="78" fill="#000"/>
<rect x="1344" y="76" width="11" height="60" fill="#000"/>
<rect x="1345" y="77" width="9" height="58" fill="#00ff00"/>
<rect x="1365" y="81" width="1" height="83" fill="#000"/>
<rect x="1360" y="98" width="11" height="38" fill="#000"/>
<rect x="1361" y="99" width="9" height="36" fill="#ff0000"/>
<rect x="1381" y="55" width="1" height="132" fill="#000"/>
<rect x="1376" y="99" width="11" height="56" fill="#000"/>
<rect x="1377" y="100" width="9" height="54" fill="#00ff00"/>
<rect x="1397" y="137" width="1" height="82" fill="#000"/>
<rect x="1392" y="156" width="11" height="46" fill="#000"/>
<rect x="1393" y="157" width="9" height="44" fill="#00ff00"/>
<rect x="1413" y="195" width="1" height="26" fill="#000"/>
<rect x="1408" y="202" width="11" height="4" fill="#000"/>
<rect x="1409" y="203" width="9" height="2" fill="#00ff00"/>
<rect x="5" y="121" width="1636" height="2" fill="#ff0000"/>
<rect x="5" y="155" width="1636" height="2" fill="#ff0000"/>
<rect x="5" y="190" width="1636" height="2" fill="#ffa500"/>
<rect x="5" y="238" width="1636" height="2" fill="#0000ff"/>
<rect x="5" y="272" width="1636" height="2" fill="#0000ff"/>
<rect x="5" y="205" width="1636" height="1" fill="#000"/>
</g>
<rect x="4" y="119" width="6" height="6" fill="#ff0000"/>
<rect x="6" y="121" width="2" height="2" fill="#fff"/>
<rect x="1635" y="119" width="6" height="6" fill="#ff0000"/>
<rect x="1637" y="121" width="2" height="2" fill="#fff"/>
<rect x="4" y="153" width="6" height="6" fill="#ff0000"/>
<rect x="6" y="155" width="2" height="2" fill="#fff"/>
<rect x="1635" y="153" width="6" height="6" fill="#ff0000"/>
<rect x="1637" y="155" width="2" height="2" fill="#fff"/>
<rect x="4" y="188" width="6" height="6" fill="#ffa500"/>
<rect x="6" y="190" width="2" height="2" fill="#fff"/>
<rect x="1635" y="188" width="6" height="6" fill="#ffa500"/>
<rect x="1637" y="190" width="2" height="2" fill="#fff"/>
<rect x="4" y="236" width="6" height="6" fill="#0000ff"/>
<rect x="6" y="238" width="2" height="2" fill="#fff"/>
<rect x="1635" y="236" width="6" height="6" fill="#0000ff"/>
<rect x="1637" y="238" width="2" height="2" fill="#fff"/>
<rect x="4" y="270" width="6" height="6" fill="#0000ff"/>
<rect x="6" y="272" width="2" height="2" fill="#fff"/>
<rect x="1635" y="270" width="6" height="6" fill="#0000ff"/>
<rect x="1637" y="272" width="2" height="2" fill="#fff"/>
<g shape-rendering="geometricPrecision"><line x1="1410.3" y1="62.5" x2="1462" y2="151.5" stroke="#4f9f2f" stroke-width="3"/><polygon points="1454.3,155.2 1469.4,146.8 1470.3,166" fill="#4f9f2f"/></g>
<g clip-path="url(#cmacd)">
<rect x="4" y="617" width="3" height="79" fill="#00ff00"/>
<rect x="20" y="620" width="3" height="76" fill="#00ff00"/>
<rect x="36" y="625" width="3" height="71" fill="#00ff00"/>
<rect x="52" y="629" width="3" height="67" fill="#00ff00"/>
<rect x="68" y="629" width="3" height="67" fill="#00ff00"/>
<rect x="84" y="630" width="3" height="66" fill="#00ff00"/>
<rect x="100" y="631" width="3" height="65" fill="#00ff00"/>
<rect x="116" y="634" width="3" height="62" fill="#00ff00"/>
<rect x="132" y="637" width="3" height="59" fill="#00ff00"/>
<rect x="148" y="642" width="3" height="54" fill="#00ff00"/>
<rect x="164" y="645" width="3" height="51" fill="#00ff00"/>
<rect x="180" y="651" width="3" height="45" fill="#00ff00"/>
<rect x="196" y="657" width="3" height="39" fill="#00ff00"/>
<rect x="212" y="660" width="3" height="36" fill="#00ff00"/>
<rect x="228" y="663" width="3" height="33" fill="#00ff00"/>
<rect x="244" y="664" width="3" height="32" fill="#00ff00"/>
<rect x="260" y="666" width="3" height="30" fill="#00ff00"/>
<rect x="276" y="669" width="3" height="27" fill="#00ff00"/>
<rect x="292" y="671" width="3" height="25" fill="#00ff00"/>
<rect x="308" y="676" width="3" height="20" fill="#00ff00"/>
<rect x="324" y="680" width="3" height="16" fill="#00ff00"/>
<rect x="340" y="685" width="3" height="11" fill="#00ff00"/>
<rect x="356" y="690" width="3" height="6" fill="#00ff00"/>
<rect x="372" y="693" width="3" height="3" fill="#00ff00"/>
<rect x="388" y="696" width="3" height="4" fill="#00ff00"/>
<rect x="404" y="696" width="3" height="10" fill="#00ff00"/>
<rect x="420" y="696" width="3" height="15" fill="#00ff00"/>
<rect x="436" y="696" width="3" height="18" fill="#00ff00"/>
<rect x="452" y="696" width="3" height="20" fill="#00ff00"/>
<rect x="468" y="696" width="3" height="20" fill="#00ff00"/>
<rect x="484" y="696" width="3" height="20" fill="#00ff00"/>
<rect x="500" y="696" width="3" height="19" fill="#00ff00"/>
<rect x="516" y="696" width="3" height="15" fill="#00ff00"/>
<rect x="532" y="696" width="3" height="15" fill="#00ff00"/>
<rect x="548" y="696" width="3" height="11" fill="#00ff00"/>
<rect x="564" y="696" width="3" height="8" fill="#00ff00"/>
<rect x="580" y="696" width="3" height="4" fill="#00ff00"/>
<rect x="596" y="696" width="3" height="2" fill="#00ff00"/>
<rect x="612" y="691" width="3" height="5" fill="#00ff00"/>
<rect x="628" y="685" width="3" height="11" fill="#00ff00"/>
<rect x="644" y="679" width="3" height="17" fill="#00ff00"/>
<rect x="660" y="673" width="3" height="23" fill="#00ff00"/>
<rect x="676" y="670" width="3" height="26" fill="#00ff00"/>
<rect x="692" y="669" width="3" height="27" fill="#00ff00"/>
<rect x="708" y="668" width="3" height="28" fill="#00ff00"/>
<rect x="724" y="668" width="3" height="28" fill="#00ff00"/>
<rect x="740" y="668" width="3" height="28" fill="#00ff00"/>
<rect x="756" y="668" width="3" height="28" fill="#00ff00"/>
<rect x="772" y="670" width="3" height="26" fill="#00ff00"/>
<rect x="788" y="671" width="3" height="25" fill="#00ff00"/>
<rect x="804" y="672" width="3" height="24" fill="#00ff00"/>
<rect x="820" y="672" width="3" height="24" fill="#00ff00"/>
<rect x="836" y="677" width="3" height="19" fill="#00ff00"/>
<rect x="852" y="681" width="3" height="15" fill="#00ff00"/>
<rect x="868" y="683" width="3" height="13" fill="#00ff00"/>
<rect x="884" y="677" width="3" height="19" fill="#00ff00"/>
<rect x="900" y="679" width="3" height="17" fill="#00ff00"/>
<rect x="916" y="685" width="3" height="11" fill="#00ff00"/>
<rect x="932" y="689" width="3" height="7" fill="#00ff00"/>
<rect x="948" y="690" width="3" height="6" fill="#00ff00"/>
<rect x="964" y="690" width="3" height="6" fill="#00ff00"/>
<rect x="980" y="691" width="3" height="5" fill="#00ff00"/>
<rect x="996" y="693" width="3" height="3" fill="#00ff00"/>
<rect x="1012" y="696" width="3" height="2" fill="#00ff00"/>
<rect x="1028" y="696" width="3" height="5" fill="#00ff00"/>
<rect x="1044" y="696" width="3" height="6" fill="#00ff00"/>
<rect x="1060" y="696" width="3" height="6" fill="#00ff00"/>
<rect x="1076" y="696" width="3" height="6" fill="#00ff00"/>
<rect x="1092" y="696" width="3" height="10" fill="#00ff00"/>
<rect x="1108" y="696" width="3" height="5" fill="#00ff00"/>
<rect x="1124" y="695" width="3" height="1" fill="#00ff00"/>
<rect x="1140" y="690" width="3" height="6" fill="#00ff00"/>
<rect x="1156" y="689" width="3" height="7" fill="#00ff00"/>
<rect x="1172" y="685" width="3" height="11" fill="#00ff00"/>
<rect x="1188" y="679" width="3" height="17" fill="#00ff00"/>
<rect x="1204" y="672" width="3" height="24" fill="#00ff00"/>
<rect x="1220" y="666" width="3" height="30" fill="#00ff00"/>
<rect x="1236" y="662" width="3" height="34" fill="#00ff00"/>
<rect x="1252" y="659" width="3" height="37" fill="#00ff00"/>
<rect x="1268" y="656" width="3" height="40" fill="#00ff00"/>
<rect x="1284" y="659" width="3" height="37" fill="#00ff00"/>
<rect x="1300" y="658" width="3" height="38" fill="#00ff00"/>
<rect x="1316" y="656" width="3" height="40" fill="#00ff00"/>
<rect x="1332" y="653" width="3" height="43" fill="#00ff00"/>
<rect x="1348" y="653" width="3" height="43" fill="#00ff00"/>
<rect x="1364" y="653" width="3" height="43" fill="#00ff00"/>
<rect x="1380" y="657" width="3" height="39" fill="#00ff00"/>
<rect x="1396" y="661" width="3" height="35" fill="#00ff00"/>
<rect x="1412" y="665" width="3" height="31" fill="#00ff00"/>
<polyline points="5,615.50 21,616.00 37,617.50 53,619.10 69,620.90 85,623.00 101,624.00 117,626.50 133,629.00 149,631.78 165,634.56 181,637.44 197,640.56 213,644.00 229,647.67 245,651.33 261,654.89 277,658.44 293,661.67 309,665.11 325,668.33 341,671.44 357,674.78 373,678.11 389,682.00 405,686.33 421,690.89 437,695.56 453,699.89 469,703.78 485,707.11 501,709.78 517,712.00 533,712.00 549,712.00 565,711.80 581,711.10 597,708.67 613,706.00 629,702.67 645,698.78 661,694.67 677,690.22 693,686.11 709,682.22 725,678.78 741,675.56 757,673.00 773,671.33 789,670.44 805,670.33 821,670.56 837,671.44 853,672.89 869,674.56 885,675.56 901,676.78 917,678.44 933,680.44 949,682.44 965,684.44 981,686.00 997,687.33 1013,688.89 1029,691.44 1045,693.89 1061,695.67 1077,697.00 1093,698.67 1109,699.78 1125,700.22 1141,699.89 1157,699.00 1173,697.33 1189,694.89 1205,691.67 1221,687.78 1237,683.00 1253,678.44 1269,674.11 1285,670.67 1301,667.22 1317,664.00 1333,661.11 1349,659.00 1365,657.56 1381,657.00 1397,657.22 1413,658.22" fill="none" stroke="#ff0000" stroke-width="2"/>
</g>
<g clip-path="url(#crsi)">
<line x1="6" y1="747.5" x2="1641" y2="747.5" stroke="#000" stroke-width="1" stroke-dasharray="3 3"/>
<line x1="6" y1="780.5" x2="1641" y2="780.5" stroke="#000" stroke-width="1" stroke-dasharray="3 3"/>
<line x1="6" y1="819.5" x2="1641" y2="819.5" stroke="#000" stroke-width="1" stroke-dasharray="3 3"/>
<polyline points="5,764.30 21,764.50 37,766.00 53,766.00 69,761.30 85,759.55 101,762.50 117,763.60 133,764.30 149,769.50 165,767.70 181,775.90 197,778.40 213,774.00 229,773.50 245,770.85 261,772.20 277,774.30 293,773.55 309,783.40 325,783.20 341,785.40 357,789.40 373,786.90 389,794.85 405,796.65 421,796.90 437,795.90 453,794.05 469,790.20 485,788.15 501,787.60 517,783.25 533,779.95 549,776.40 565,774.70 581,769.20 597,775.40 613,764.00 629,762.25 645,759.47 661,756.30 677,764.10 693,766.00 709,766.15 725,765.15 741,766.00 757,766.00 773,767.50 789,773.50 805,768.55 821,768.55 837,781.90 853,784.40 869,780.20 885,763.00 901,777.20 917,786.10 933,786.10 949,779.40 965,779.40 981,779.40 997,783.10 1013,787.90 1029,788.40 1045,782.60 1061,782.75 1077,781.45 1093,791.30 1109,773.20 1125,772.40 1141,772.20 1157,775.40 1173,771.20 1189,765.30 1205,761.85 1221,761.80 1237,762.00 1253,762.00 1269,762.00 1285,774.25 1301,765.85 1317,765.65 1333,762.00 1349,769.00 1365,766.50 1381,772.90 1397,778.30 1413,778.30" fill="none" stroke="#1e90ff" stroke-width="2"/>
</g>
<rect x="4" y="26" width="1638" height="1" fill="#000"/>
<rect x="4" y="605" width="1638" height="1" fill="#000"/>
<rect x="4" y="26" width="1" height="580" fill="#000"/>
<rect x="1641" y="26" width="1" height="580" fill="#000"/>
<rect x="4" y="607" width="1638" height="1" fill="#000"/>
<rect x="4" y="721" width="1638" height="1" fill="#000"/>
<rect x="4" y="607" width="1" height="115" fill="#000"/>
<rect x="1641" y="607" width="1" height="115" fill="#000"/>
<rect x="4" y="723" width="1638" height="1" fill="#000"/>
<rect x="4" y="836" width="1638" height="1" fill="#000"/>
<rect x="4" y="723" width="1" height="114" fill="#000"/>
<rect x="1641" y="723" width="1" height="114" fill="#000"/>
<rect x="1439" y="27" width="9" height="1" fill="#000"/>
<rect x="1440" y="28" width="7" height="1" fill="#000"/>
<rect x="1441" y="29" width="5" height="1" fill="#000"/>
<rect x="1442" y="30" width="3" height="1" fill="#000"/>
<rect x="1443" y="31" width="1" height="1" fill="#000"/>
<g font-family='"Liberation Sans", Arial, sans-serif' text-rendering="geometricPrecision">
<rect x="8" y="33" width="7" height="1" fill="#000"/>
<rect x="9" y="34" width="5" height="1" fill="#000"/>
<rect x="10" y="35" width="3" height="1" fill="#000"/>
<rect x="11" y="36" width="1" height="1" fill="#000"/>
<text x="20" y="38" fill="#000" stroke="#000" stroke-width="0.2" font-size="10" letter-spacing="-0.4">EURUSD-,H4</text>
<text x="82.6" y="38" fill="#000" stroke="#000" stroke-width="0.2" font-size="10" letter-spacing="-0.4">1.04919</text>
<text x="118.8" y="38" fill="#000" stroke="#000" stroke-width="0.2" font-size="10" letter-spacing="-0.4">1.04963</text>
<text x="155.1" y="38" fill="#000" stroke="#000" stroke-width="0.2" font-size="10" letter-spacing="-0.4">1.04793</text>
<text x="191.2" y="38" fill="#000" stroke="#000" stroke-width="0.2" font-size="10" letter-spacing="-0.4">1.04897</text>
<rect x="1642" y="41" width="2" height="1" fill="#000"/>
<text x="1646.5" y="45" fill="#000" stroke="#000" stroke-width="0.2" font-size="10" letter-spacing="-0.4">1.06035</text>
<rect x="1642" y="74" width="2" height="1" fill="#000"/>
<text x="1646.5" y="78" fill="#000" stroke="#000" stroke-width="0.2" font-size="10" letter-spacing="-0.4">1.05805</text>
<rect x="1642" y="107" width="2" height="1" fill="#000"/>
<text x="1646.5" y="111" fill="#000" stroke="#000" stroke-width="0.2" font-size="10" letter-spacing="-0.4">1.05575</text>
<rect x="1642" y="140" width="2" height="1" fill="#000"/>
<text x="1646.5" y="144" fill="#000" stroke="#000" stroke-width="0.2" font-size="10" letter-spacing="-0.4">1.05345</text>
<rect x="1642" y="173" width="2" height="1" fill="#000"/>
<text x="1646.5" y="177" fill="#000" stroke="#000" stroke-width="0.2" font-size="10" letter-spacing="-0.4">1.05120</text>
<rect x="1642" y="305" width="2" height="1" fill="#000"/>
<text x="1646.5" y="309" fill="#000" stroke="#000" stroke-width="0.2" font-size="10" letter-spacing="-0.4">1.04200</text>
<rect x="1642" y="338" width="2" height="1" fill="#000"/>
<text x="1646.5" y="342" fill="#000" stroke="#000" stroke-width="0.2" font-size="10" letter-spacing="-0.4">1.03970</text>
<rect x="1642" y="371" width="2" height="1" fill="#000"/>
<text x="1646.5" y="375" fill="#000" stroke="#000" stroke-width="0.2" font-size="10" letter-spacing="-0.4">1.03740</text>
<rect x="1642" y="404" width="2" height="1" fill="#000"/>
<text x="1646.5" y="408" fill="#000" stroke="#000" stroke-width="0.2" font-size="10" letter-spacing="-0.4">1.03510</text>
<rect x="1642" y="437" width="2" height="1" fill="#000"/>
<text x="1646.5" y="441" fill="#000" stroke="#000" stroke-width="0.2" font-size="10" letter-spacing="-0.4">1.03285</text>
<rect x="1642" y="470" width="2" height="1" fill="#000"/>
<text x="1646.5" y="474" fill="#000" stroke="#000" stroke-width="0.2" font-size="10" letter-spacing="-0.4">1.03055</text>
<rect x="1642" y="503" width="2" height="1" fill="#000"/>
<text x="1646.5" y="507" fill="#000" stroke="#000" stroke-width="0.2" font-size="10" letter-spacing="-0.4">1.02825</text>
<rect x="1642" y="536" width="2" height="1" fill="#000"/>
<text x="1646.5" y="540" fill="#000" stroke="#000" stroke-width="0.2" font-size="10" letter-spacing="-0.4">1.02595</text>
<rect x="1642" y="569" width="2" height="1" fill="#000"/>
<text x="1646.5" y="573" fill="#000" stroke="#000" stroke-width="0.2" font-size="10" letter-spacing="-0.4">1.02365</text>
<rect x="1642" y="602" width="2" height="1" fill="#000"/>
<text x="1646.5" y="606" fill="#000" stroke="#000" stroke-width="0.2" font-size="10" letter-spacing="-0.4">1.02135</text>
<rect x="1643" y="116" width="42" height="11" fill="#ff0000"/>
<text x="1646.5" y="125" fill="#fff" stroke="#fff" stroke-width="0.2" font-size="10" letter-spacing="-0.4">1.05471</text>
<rect x="1643" y="150" width="42" height="11" fill="#ff0000"/>
<text x="1646.5" y="159" fill="#fff" stroke="#fff" stroke-width="0.2" font-size="10" letter-spacing="-0.4">1.05235</text>
<rect x="1643" y="185" width="42" height="11" fill="#ffa500"/>
<text x="1646.5" y="194" fill="#fff" stroke="#fff" stroke-width="0.2" font-size="10" letter-spacing="-0.4">1.04992</text>
<rect x="1643" y="233" width="42" height="11" fill="#0000ff"/>
<text x="1646.5" y="242" fill="#fff" stroke="#fff" stroke-width="0.2" font-size="10" letter-spacing="-0.4">1.04659</text>
<rect x="1643" y="267" width="42" height="11" fill="#0000ff"/>
<text x="1646.5" y="276" fill="#fff" stroke="#fff" stroke-width="0.2" font-size="10" letter-spacing="-0.4">1.04423</text>
<rect x="1643" y="200" width="42" height="11" fill="#000"/>
<text x="1646.5" y="209" fill="#fff" stroke="#fff" stroke-width="0.2" font-size="10" letter-spacing="-0.4">1.04897</text>
<text x="9" y="620" fill="#000" stroke="#000" stroke-width="0.2" font-size="10" letter-spacing="-0.3">MACD(12,26,9) 0.003342 0.004220</text>
<rect x="1642" y="609" width="1" height="1" fill="#000"/>
<rect x="1642" y="696" width="1" height="1" fill="#000"/>
<rect x="1642" y="720" width="1" height="1" fill="#000"/>
<text x="1644.3" y="618" fill="#000" stroke="#000" stroke-width="0.2" font-size="10" letter-spacing="-0.4">0.009433</text>
<text x="1644.3" y="700" fill="#000" stroke="#000" stroke-width="0.2" font-size="10" letter-spacing="-0.4">0.00</text>
<text x="1644.3" y="718" fill="#000" stroke="#000" stroke-width="0.2" font-size="10" letter-spacing="-0.45">-0.002606</text>
<text x="8.5" y="736" fill="#000" stroke="#000" stroke-width="0.2" font-size="10" letter-spacing="-0.27">RSI(14) 51.8887</text>
<rect x="1642" y="725" width="1" height="1" fill="#000"/>
<rect x="1642" y="835" width="1" height="1" fill="#000"/>
<text x="1644.3" y="734" fill="#000" stroke="#000" stroke-width="0.2" font-size="10" letter-spacing="-0.4">100</text>
<text x="1644.3" y="751" fill="#000" stroke="#000" stroke-width="0.2" font-size="10" letter-spacing="-0.4">80</text>
<text x="1644.3" y="784" fill="#000" stroke="#000" stroke-width="0.2" font-size="10" letter-spacing="-0.4">50</text>
<text x="1644.3" y="823" fill="#000" stroke="#000" stroke-width="0.2" font-size="10" letter-spacing="-0.4">15</text>
<text x="1644.3" y="833" fill="#000" stroke="#000" stroke-width="0.2" font-size="10" letter-spacing="-0.4">0</text>
<rect x="5" y="837" width="1" height="3" fill="#000"/>
<text x="3.7" y="849" fill="#000" stroke="#000" stroke-width="0.2" font-size="10" letter-spacing="-0.15">15 Nov 2022</text>
<rect x="69" y="837" width="1" height="3" fill="#000"/>
<text x="67.7" y="849" fill="#000" stroke="#000" stroke-width="0.2" font-size="10" letter-spacing="-0.15">16 Nov 04:00</text>
<rect x="133" y="837" width="1" height="3" fill="#000"/>
<text x="131.7" y="849" fill="#000" stroke="#000" stroke-width="0.2" font-size="10" letter-spacing="-0.15">16 Nov 20:00</text>
<rect x="197" y="837" width="1" height="3" fill="#000"/>
<text x="195.7" y="849" fill="#000" stroke="#000" stroke-width="0.2" font-size="10" letter-spacing="-0.15">17 Nov 12:00</text>
<rect x="261" y="837" width="1" height="3" fill="#000"/>
<text x="259.7" y="849" fill="#000" stroke="#000" stroke-width="0.2" font-size="10" letter-spacing="-0.15">18 Nov 04:00</text>
<rect x="325" y="837" width="1" height="3" fill="#000"/>
<text x="323.7" y="849" fill="#000" stroke="#000" stroke-width="0.2" font-size="10" letter-spacing="-0.15">18 Nov 18:00</text>
<rect x="389" y="837" width="1" height="3" fill="#000"/>
<text x="387.7" y="849" fill="#000" stroke="#000" stroke-width="0.2" font-size="10" letter-spacing="-0.15">21 Nov 04:00</text>
<rect x="453" y="837" width="1" height="3" fill="#000"/>
<text x="451.7" y="849" fill="#000" stroke="#000" stroke-width="0.2" font-size="10" letter-spacing="-0.15">21 Nov 20:00</text>
<rect x="517" y="837" width="1" height="3" fill="#000"/>
<text x="515.7" y="849" fill="#000" stroke="#000" stroke-width="0.2" font-size="10" letter-spacing="-0.15">22 Nov 12:00</text>
<rect x="581" y="837" width="1" height="3" fill="#000"/>
<text x="579.7" y="849" fill="#000" stroke="#000" stroke-width="0.2" font-size="10" letter-spacing="-0.15">23 Nov 04:00</text>
<rect x="645" y="837" width="1" height="3" fill="#000"/>
<text x="643.7" y="849" fill="#000" stroke="#000" stroke-width="0.2" font-size="10" letter-spacing="-0.15">23 Nov 20:00</text>
<rect x="709" y="837" width="1" height="3" fill="#000"/>
<text x="707.7" y="849" fill="#000" stroke="#000" stroke-width="0.2" font-size="10" letter-spacing="-0.15">24 Nov 12:00</text>
<rect x="773" y="837" width="1" height="3" fill="#000"/>
<text x="771.7" y="849" fill="#000" stroke="#000" stroke-width="0.2" font-size="10" letter-spacing="-0.15">25 Nov 04:00</text>
<rect x="837" y="837" width="1" height="3" fill="#000"/>
<text x="835.7" y="849" fill="#000" stroke="#000" stroke-width="0.2" font-size="10" letter-spacing="-0.15">27 Nov 23:00</text>
<rect x="901" y="837" width="1" height="3" fill="#000"/>
<text x="899.7" y="849" fill="#000" stroke="#000" stroke-width="0.2" font-size="10" letter-spacing="-0.15">28 Nov 12:00</text>
<rect x="965" y="837" width="1" height="3" fill="#000"/>
<text x="963.7" y="849" fill="#000" stroke="#000" stroke-width="0.2" font-size="10" letter-spacing="-0.15">29 Nov 04:00</text>
<rect x="1029" y="837" width="1" height="3" fill="#000"/>
<text x="1027.7" y="849" fill="#000" stroke="#000" stroke-width="0.2" font-size="10" letter-spacing="-0.15">29 Nov 20:00</text>
<rect x="1093" y="837" width="1" height="3" fill="#000"/>
<text x="1091.7" y="849" fill="#000" stroke="#000" stroke-width="0.2" font-size="10" letter-spacing="-0.15">30 Nov 12:00</text>
<rect x="1157" y="837" width="1" height="3" fill="#000"/>
<text x="1155.7" y="849" fill="#000" stroke="#000" stroke-width="0.2" font-size="10" letter-spacing="-0.15">1 Dec 04:00</text>
<rect x="1221" y="837" width="1" height="3" fill="#000"/>
<text x="1219.7" y="849" fill="#000" stroke="#000" stroke-width="0.2" font-size="10" letter-spacing="-0.15">1 Dec 20:00</text>
<rect x="1285" y="837" width="1" height="3" fill="#000"/>
<text x="1283.7" y="849" fill="#000" stroke="#000" stroke-width="0.2" font-size="10" letter-spacing="-0.15">2 Dec 12:00</text>
<rect x="1349" y="837" width="1" height="3" fill="#000"/>
<text x="1347.7" y="849" fill="#000" stroke="#000" stroke-width="0.2" font-size="10" letter-spacing="-0.15">5 Dec 04:00</text>
<rect x="1413" y="837" width="1" height="3" fill="#000"/>
<text x="1411.7" y="849" fill="#000" stroke="#000" stroke-width="0.2" font-size="10" letter-spacing="-0.15">5 Dec 20:00</text>
</g>
</svg>
</body></html>
